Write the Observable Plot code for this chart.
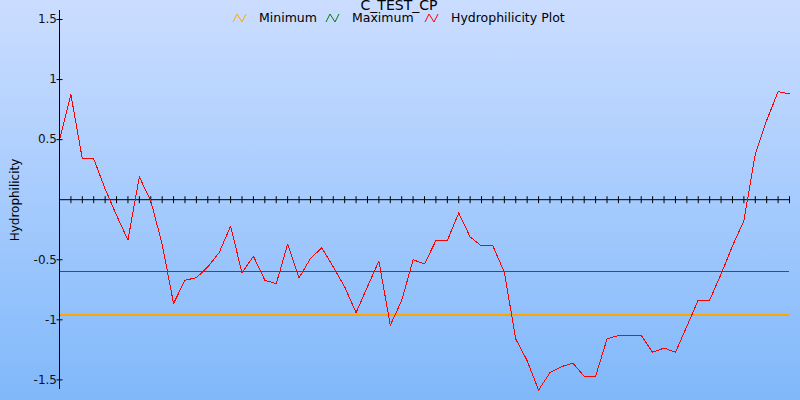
<!DOCTYPE html>
<html>
<head>
<meta charset="utf-8">
<script src="https://cdn.jsdelivr.net/npm/d3@7"></script>
<script src="https://cdn.jsdelivr.net/npm/@observablehq/plot@0.6"></script>
<style>
  html, body { margin: 0; padding: 0; }
  #wrap { position: relative; width: 800px; height: 400px; overflow: hidden;
          font-family: "DejaVu Sans", sans-serif; font-size: 12px; color: #000; }
  #chart { position: absolute; left: 0; top: 0; }
  #title { position: absolute; left: 0; top: -2px; width: 798px; text-align: center;
           font-size: 14px; line-height: 14px; white-space: nowrap; }
  #legend { position: absolute; left: 0; top: 0; width: 800px; height: 30px; }
  #legend svg { position: absolute; top: 12px; width: 15px; height: 11px; }
  #legend .lbl { position: absolute; top: 12px; line-height: 12px; font-size: 12.5px; white-space: nowrap; }
  #ylabel { position: absolute; left: 15px; top: 199.5px; transform: translate(-50%, -50%) rotate(-90deg);
            white-space: nowrap; font-size: 12px; }
</style>
</head>
<body>
<div id="wrap">
  <div id="chart"></div>
  <div id="title"></div>
  <div id="legend"></div>
  <div id="ylabel"></div>
</div>
<script>
// ---- data ----
const titleText = "C_TEST_CP";
const yLabel = "Hydrophilicity";
const seriesNames = ["Minimum", "Maximum", "Hydrophilicity Plot"];
const seriesColors = ["#ffa500", "#008000", "#ff0000"];
const minimumLevel = -0.96;
const maximumLevel = -0.60;
const hydrophilicity = [
  0.5, 0.875, 0.34, 0.34, 0.09, -0.13, -0.336, 0.19, -0.01, -0.37,
  -0.865, -0.67, -0.65, -0.56, -0.44, -0.22, -0.61, -0.47, -0.67, -0.70,
  -0.37, -0.65, -0.49, -0.40, -0.56, -0.725, -0.94, -0.725, -0.51, -1.045,
  -0.84, -0.50, -0.535, -0.34, -0.34, -0.11, -0.31, -0.385, -0.385, -0.605,
  -1.16, -1.34, -1.585, -1.44, -1.39, -1.36, -1.47, -1.47, -1.16, -1.13,
  -1.13, -1.13, -1.27, -1.235, -1.27, -1.055, -0.835, -0.835, -0.62, -0.385,
  -0.175, 0.38, 0.66, 0.90, 0.88
];
const positions = hydrophilicity.map((_, i) => i);
const xTicks = positions.slice(1);
const yTicks = [-1.5, -1, -0.5, 0.5, 1, 1.5];
const yDomain = [-1.58, 1.575];

// ---- chart ----
const vTick = { draw(ctx) { ctx.moveTo(0, -3.5); ctx.lineTo(0, 3.5); } };
const hTick = { draw(ctx) { ctx.moveTo(-3, 0); ctx.lineTo(3, 0); } };
const rows = positions.map((p, i) => ({ x: p, y: hydrophilicity[i] }));

const chart = Plot.plot({
  width: 800,
  height: 400,
  marginLeft: 59,
  marginRight: 11,
  marginTop: 10,
  marginBottom: 11,
  style: {
    background: "linear-gradient(to bottom, #cbddff 0%, #a6cbfd 50%, #80b8fa 100%)",
    fontFamily: "DejaVu Sans, sans-serif",
    fontSize: "12px",
    color: "#000",
    overflow: "visible"
  },
  x: { domain: [0, positions[positions.length - 1]], axis: null },
  y: { domain: yDomain, axis: null },
  marks: [
    Plot.ruleY([minimumLevel], { stroke: seriesColors[0], strokeWidth: 2, shapeRendering: "crispEdges" }),
    Plot.ruleY([maximumLevel], { stroke: seriesColors[1], strokeWidth: 1, shapeRendering: "crispEdges" }),
    Plot.ruleY([0], { stroke: "#000", strokeWidth: 1 }),
    Plot.dot(xTicks, { x: d => d, y: () => 0, symbol: vTick, stroke: "#000", fill: "none", strokeWidth: 1 }),
    Plot.line(rows, { x: "x", y: "y", stroke: seriesColors[2], strokeWidth: 1, shapeRendering: "crispEdges" }),
    Plot.ruleX([0], { stroke: "#000", strokeWidth: 1 }),
    Plot.dot(yTicks, { x: () => 0, y: d => d, symbol: hTick, stroke: "#000", fill: "none", strokeWidth: 1 }),
    Plot.axisY(yTicks, { tickSize: 0, tickPadding: 2.5, tickFormat: d => String(d), fontSize: 12, fill: "#111", label: null })
  ]
});
document.getElementById("chart").appendChild(chart);

// ---- title, legend, y label ----
document.getElementById("title").textContent = titleText;
document.getElementById("ylabel").textContent = yLabel;
const legend = document.getElementById("legend");
const iconLeft = [232, 325, 424];
const labelLeft = [259, 352, 451];
seriesNames.forEach((name, i) => {
  const icon = document.createElementNS("http://www.w3.org/2000/svg", "svg");
  icon.setAttribute("viewBox", "0 0 15 11");
  icon.style.left = iconLeft[i] + "px";
  icon.innerHTML = `<polyline points="1,10 5,2 10,10 14,2" fill="none" stroke="${seriesColors[i]}" stroke-width="1"/>`;
  legend.appendChild(icon);
  const lbl = document.createElement("span");
  lbl.className = "lbl";
  lbl.style.left = labelLeft[i] + "px";
  lbl.textContent = name;
  legend.appendChild(lbl);
});
</script>
</body>
</html>
